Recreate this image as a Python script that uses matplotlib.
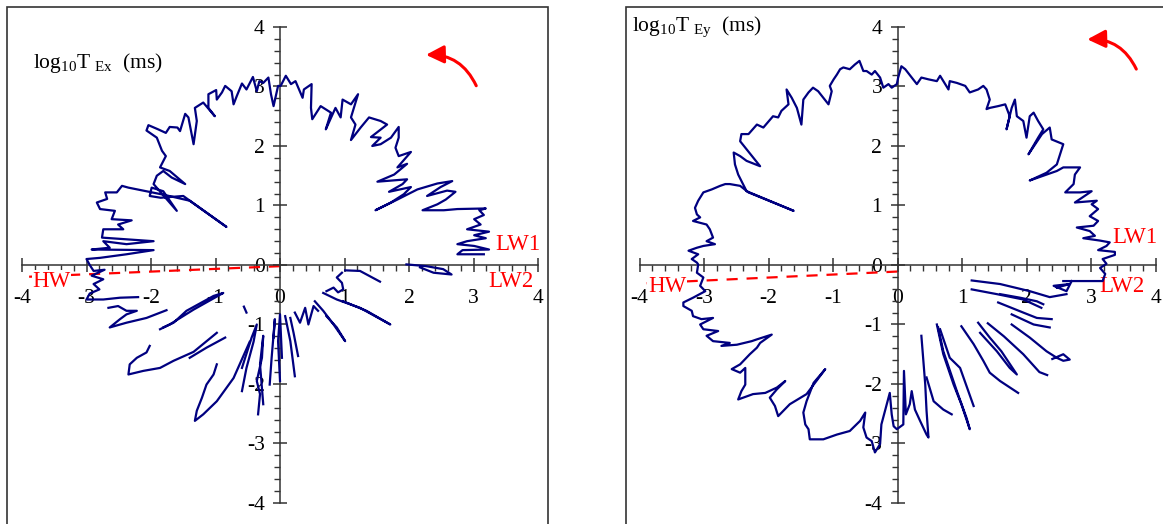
import numpy as np
import matplotlib.pyplot as plt
from matplotlib.patches import Rectangle, FancyArrowPatch
from matplotlib.ticker import MultipleLocator

plt.rcParams['font.family'] = ['Liberation Serif', 'DejaVu Serif']
plt.rcParams['mathtext.fontset'] = 'custom'
plt.rcParams['mathtext.rm'] = 'Liberation Serif'
plt.rcParams['axes.unicode_minus'] = False

# ---- T_Ex panel : main trace (LW1 -> top -> HW) ----
ex_main = [
    (3.16, 0.18), (2.75, 0.18), (2.83, 0.25), (3.24, 0.26), (3.01, 0.32), (2.75, 0.35),
    (2.90, 0.40), (3.19, 0.45), (3.01, 0.50), (3.24, 0.56), (2.90, 0.60), (3.11, 0.68),
    (3.01, 0.77), (3.16, 0.84), (3.09, 0.92), (3.19, 0.95), (2.75, 0.94), (2.54, 0.92),
    (2.21, 0.92), (2.44, 1.02), (2.57, 1.10), (2.72, 1.23), (2.59, 1.25), (2.28, 1.16),
    (2.49, 1.31), (2.67, 1.41), (2.44, 1.37), (2.13, 1.27), (1.82, 1.10), (1.48, 0.92),
    (1.72, 1.05), (1.92, 1.19), (2.03, 1.31), (1.69, 1.23), (1.90, 1.36), (1.97, 1.44),
    (1.51, 1.40), (1.77, 1.52), (1.97, 1.70), (1.82, 1.64), (2.03, 1.90), (1.84, 1.83),
    (1.79, 1.97), (1.84, 2.14), (1.84, 2.32), (1.72, 2.14), (1.56, 2.03), (1.43, 2.00),
    (1.56, 2.14), (1.41, 2.15), (1.66, 2.36), (1.56, 2.42), (1.38, 2.48), (1.25, 2.31),
    (1.10, 2.10), (1.17, 2.36), (1.10, 2.48), (1.21, 2.87), (1.10, 2.70), (0.97, 2.78),
    (0.94, 2.48), (0.86, 2.64), (0.71, 2.28), (0.79, 2.56), (0.63, 2.67), (0.50, 2.45),
    (0.48, 2.64), (0.49, 3.04), (0.37, 2.95), (0.35, 2.81), (0.24, 3.09), (0.17, 3.04),
    (0.09, 3.18), (0.01, 3.01), (-0.03, 3.01),
    (-0.10, 2.67), (-0.14, 2.87), (-0.18, 3.15), (-0.26, 3.06), (-0.32, 3.09), (-0.36, 2.92),
    (-0.42, 3.16), (-0.52, 2.95), (-0.59, 3.05), (-0.67, 2.84), (-0.72, 2.70), (-0.75, 2.92),
    (-0.85, 3.01), (-0.90, 2.90), (-0.98, 2.78), (-0.99, 2.94), (-1.11, 2.87), (-1.11, 2.64),
    (-1.01, 2.50), (-1.19, 2.73), (-1.32, 2.64), (-1.29, 2.42), (-1.34, 2.03), (-1.42, 2.48),
    (-1.47, 2.54), (-1.55, 2.25), (-1.59, 2.31), (-1.71, 2.32), (-1.77, 2.22), (-1.89, 2.28),
    (-2.04, 2.35), (-2.07, 2.26), (-1.91, 2.14), (-1.83, 1.92), (-1.77, 1.83), (-1.86, 1.64),
    (-1.71, 1.58), (-1.47, 1.36), (-1.68, 1.47), (-1.81, 1.58), (-1.91, 1.50), (-1.96, 1.36),
    (-1.60, 0.91), (-1.81, 1.24), (-1.99, 1.30), (-2.02, 1.16), (-1.85, 1.13), (-1.50, 1.16),
    (-0.83, 0.64), (-1.40, 1.08), (-1.80, 1.18), (-2.35, 1.30), (-2.45, 1.33), (-2.53, 1.22),
    (-2.71, 1.22), (-2.68, 1.11), (-2.84, 1.05), (-2.79, 0.94), (-2.56, 0.91), (-2.61, 0.77),
    (-2.30, 0.75), (-2.51, 0.68), (-2.43, 0.60), (-2.74, 0.60), (-2.76, 0.46), (-1.96, 0.40),
    (-2.38, 0.35), (-2.74, 0.40), (-2.64, 0.29), (-2.92, 0.26), (-1.96, 0.25), (-2.38, 0.18),
    (-2.79, 0.12), (-3.00, 0.10), (-2.95, 0.00), (-2.89, -0.10), (-2.72, -0.08), (-2.92, -0.18),
    (-2.74, -0.24), (-2.89, -0.32), (-2.80, -0.41), (-2.95, -0.48), (-3.00, -0.58), (-2.74, -0.58),
    (-2.48, -0.55), (-2.20, -0.54),
]

# ---- T_Ex panel : separate strokes of the lower half ----
ex_strokes = [
    [(-2.66, -0.72), (-2.51, -0.69), (-2.38, -0.77), (-2.22, -0.77), (-2.38, -0.83), (-2.48, -0.91),
     (-2.64, -1.05), (-2.38, -0.97), (-2.07, -0.89), (-1.76, -0.76)],
    [(-1.86, -1.08), (-1.71, -1.00), (-1.34, -0.75), (-0.88, -0.47), (-1.03, -0.52), (-1.45, -0.77),
     (-1.65, -0.97), (-1.81, -1.05)],
    [(-2.02, -1.36), (-2.07, -1.47), (-2.22, -1.56), (-2.33, -1.67), (-2.35, -1.84), (-2.12, -1.78),
     (-1.86, -1.73), (-1.65, -1.61), (-1.34, -1.46), (-0.98, -1.14)],
    [(-1.40, -1.56), (-1.14, -1.39), (-0.85, -1.22)],
    [(-0.98, -1.67), (-1.03, -1.84), (-1.14, -2.01), (-1.21, -2.23), (-1.29, -2.45), (-1.32, -2.62),
     (-1.19, -2.51), (-0.98, -2.29), (-0.72, -1.90), (-0.47, -1.29)],
    [(-0.56, -0.70), (-0.52, -0.80)],
    [(-0.59, -2.12), (-0.52, -1.73), (-0.41, -1.29), (-0.36, -1.00), (-0.44, -1.22), (-0.59, -1.73)],
    [(-0.34, -2.51), (-0.31, -2.17), (-0.36, -1.95), (-0.28, -1.56), (-0.26, -1.19), (-0.31, -1.67),
     (-0.26, -2.34)],
    [(-0.16, -2.01), (-0.13, -1.56), (-0.08, -0.91), (-0.10, -1.22)],
    [(0.00, -1.95), (-0.03, -1.28), (0.00, -0.83), (0.03, -1.56)],
    [(0.08, -0.86), (0.16, -1.28), (0.23, -1.87)],
    [(0.16, -0.89), (0.21, -1.14), (0.28, -1.53)],
    [(0.23, -0.80), (0.31, -0.97), (0.39, -0.72), (0.44, -1.00), (0.52, -0.69), (0.59, -0.77)],
    [(0.54, -0.61), (0.67, -0.77), (0.83, -1.00), (1.01, -1.28), (0.88, -1.05), (0.72, -0.86)],
    [(0.67, -0.47), (0.88, -0.58), (1.24, -0.72), (1.71, -1.00), (1.34, -0.77), (0.98, -0.61)],
    [(0.72, -0.44), (0.83, -0.38), (0.90, -0.46), (0.98, -0.41), (0.96, -0.30), (0.88, -0.21),
     (0.96, -0.13)],
    [(1.01, -0.09), (1.24, -0.10), (1.55, -0.28)],
    [(1.96, 0.01), (2.27, -0.02), (2.53, -0.07), (2.66, -0.16), (2.38, -0.13), (2.17, -0.04)],
]

# ---- T_Ey panel : main trace (LW2 -> LW1 -> top -> HW -> bottom) ----
ey_main = [
    (2.57, -0.27), (3.18, -0.27), (3.22, -0.15), (3.14, -0.05), (3.24, 0.02), (3.18, 0.10),
    (3.37, 0.17), (3.37, 0.22), (3.11, 0.25), (3.24, 0.32), (3.29, 0.38), (3.14, 0.41),
    (2.88, 0.45), (3.06, 0.49), (2.98, 0.57), (2.78, 0.63), (3.04, 0.66), (3.11, 0.74),
    (2.98, 0.82), (3.11, 0.94), (3.01, 1.02), (3.09, 1.08), (2.75, 1.05), (3.01, 1.24),
    (2.83, 1.22), (2.60, 1.22), (2.73, 1.36), (2.75, 1.52), (2.83, 1.64), (2.57, 1.64),
    (2.47, 1.58), (2.05, 1.42), (2.31, 1.55), (2.47, 1.69), (2.52, 1.86), (2.57, 2.03),
    (2.39, 2.11), (2.36, 2.31), (2.24, 2.20), (2.03, 1.86), (2.18, 2.14), (2.26, 2.28),
    (2.18, 2.42), (2.11, 2.56), (2.05, 2.50), (2.00, 2.14), (1.95, 2.42), (1.85, 2.50),
    (1.82, 2.78), (1.77, 2.64), (1.69, 2.28), (1.74, 2.50), (1.67, 2.70), (1.56, 2.67),
    (1.43, 2.64), (1.38, 2.62), (1.43, 2.78), (1.38, 2.95), (1.33, 3.01), (1.25, 2.95),
    (1.12, 2.90), (1.05, 3.01), (0.92, 3.06), (0.81, 3.09), (0.79, 2.95), (0.66, 3.18),
    (0.61, 3.09), (0.48, 3.12), (0.37, 3.15), (0.30, 3.04), (0.22, 3.15), (0.12, 3.29),
    (0.06, 3.34), (0.01, 3.15), (-0.01, 3.04), (-0.09, 2.98), (-0.14, 3.04), (-0.22, 2.98),
    (-0.27, 3.15), (-0.35, 3.26), (-0.40, 3.20), (-0.48, 3.26), (-0.53, 3.26), (-0.59, 3.43),
    (-0.66, 3.37), (-0.74, 3.29), (-0.84, 3.32), (-0.89, 3.29), (-0.94, 3.20), (-0.99, 3.12),
    (-1.05, 3.01), (-1.02, 2.92), (-1.07, 2.70), (-1.15, 2.81), (-1.23, 2.92), (-1.31, 2.98),
    (-1.38, 2.90), (-1.46, 2.78), (-1.49, 2.36), (-1.56, 2.64), (-1.64, 2.81), (-1.72, 2.95),
    (-1.69, 2.70), (-1.80, 2.59), (-1.85, 2.48), (-1.93, 2.50), (-2.08, 2.31), (-2.18, 2.36),
    (-2.31, 2.20), (-2.42, 2.20), (-2.44, 2.08), (-2.13, 1.66), (-2.34, 1.75), (-2.44, 1.83),
    (-2.54, 1.89), (-2.52, 1.69), (-2.47, 1.52), (-2.34, 1.24), (-1.61, 0.91), (-2.31, 1.22),
    (-2.44, 1.33), (-2.60, 1.36), (-2.67, 1.36), (-2.75, 1.33), (-2.88, 1.27), (-3.01, 1.22),
    (-3.09, 1.08), (-3.14, 0.96), (-3.11, 0.85), (-3.06, 0.80), (-3.17, 0.74), (-2.96, 0.68),
    (-2.91, 0.60), (-2.86, 0.46), (-2.96, 0.40), (-2.83, 0.35), (-3.01, 0.32), (-3.11, 0.29),
    (-3.24, 0.24), (-3.09, 0.18), (-3.19, 0.10), (-3.11, 0.04), (-3.09, 0.01), (-3.11, -0.13),
    (-3.01, -0.21), (-3.06, -0.35), (-2.98, -0.44), (-3.17, -0.55), (-3.32, -0.63), (-3.32, -0.69),
    (-3.19, -0.77), (-3.17, -0.86), (-3.04, -0.91), (-2.86, -0.89), (-3.06, -1.00), (-3.01, -1.08),
    (-2.78, -1.11), (-2.96, -1.19), (-2.86, -1.28), (-2.60, -1.31), (-2.73, -1.36), (-2.49, -1.34),
    (-2.26, -1.28), (-2.18, -1.25), (-1.95, -1.17), (-2.13, -1.31), (-2.18, -1.39), (-2.29, -1.50),
    (-2.44, -1.67), (-2.57, -1.75), (-2.44, -1.81), (-2.36, -1.73), (-2.36, -2.01), (-2.42, -2.12),
    (-2.47, -2.26), (-2.24, -2.17), (-2.05, -2.15), (-1.87, -2.06), (-1.74, -1.95), (-1.87, -2.09),
    (-1.98, -2.23), (-1.90, -2.37), (-1.85, -2.54), (-1.67, -2.34), (-1.41, -2.17), (-1.12, -1.75),
    (-1.30, -1.98), (-1.41, -2.29), (-1.46, -2.48), (-1.43, -2.68), (-1.38, -2.76), (-1.36, -2.93),
    (-1.15, -2.93), (-0.94, -2.85), (-0.74, -2.79), (-0.58, -2.62), (-0.50, -2.48), (-0.53, -2.73),
    (-0.48, -2.90), (-0.40, -2.96), (-0.35, -3.15), (-0.27, -3.01), (-0.25, -2.68), (-0.12, -2.15),
    (-0.09, -2.51), (-0.06, -2.71), (-0.01, -2.76), (0.09, -2.68), (0.10, -1.78), (0.13, -2.51),
    (0.19, -2.34), (0.22, -2.12), (0.27, -2.43), (0.35, -2.62), (0.45, -2.85), (0.48, -2.90),
    (0.45, -2.45), (0.43, -2.01), (0.37, -1.19),
]

# ---- T_Ey panel : radial strokes of the lower right quarter ----
ey_strokes = [
    [(0.61, -1.00), (0.71, -1.50), (0.87, -2.01), (0.99, -2.34), (1.12, -2.76), (1.07, -2.57),
     (0.92, -2.12), (0.71, -1.45), (0.63, -1.05)],
    [(0.66, -1.08), (0.81, -1.56), (0.97, -1.73), (1.18, -2.37)],
    [(0.45, -1.89), (0.56, -2.29), (0.71, -2.43), (0.84, -2.51)],
    [(0.99, -1.03), (1.18, -1.33), (1.33, -1.61), (1.43, -1.81), (1.59, -1.95), (1.87, -2.15)],
    [(1.25, -0.97), (1.43, -1.22), (1.61, -1.45), (1.85, -1.84), (1.74, -1.73), (1.54, -1.45),
     (1.28, -1.14)],
    [(1.40, -0.98), (1.65, -1.20), (1.95, -1.50), (2.20, -1.80), (2.32, -1.85)],
    [(1.77, -1.00), (2.05, -1.22), (2.31, -1.45), (2.47, -1.56), (2.57, -1.61), (2.67, -1.59),
     (2.57, -1.50), (2.40, -1.58)],
    [(1.77, -0.83), (2.11, -1.00), (2.36, -1.05)],
    [(1.56, -0.63), (1.95, -0.80), (2.16, -0.89), (2.39, -0.91)],
    [(1.59, -0.49), (1.90, -0.55), (2.16, -0.61), (2.26, -0.66)],
    [(1.15, -0.41), (1.54, -0.49), (1.95, -0.58), (2.23, -0.72)],
    [(1.15, -0.26), (1.59, -0.32), (2.05, -0.44), (2.36, -0.54), (2.62, -0.49)],
    [(2.47, -0.38), (2.67, -0.32), (2.42, -0.35), (2.62, -0.44), (2.70, -0.27)],
]

# HW direction lines (start at origin)
ex_hw = [(0.0, -0.02), (-3.95, -0.20)]
ey_hw = [(0.0, -0.11), (-3.95, -0.31)]

navy = '#000080'
fig = plt.figure(figsize=(11.63, 5.24), dpi=100)

# chart-area frames
fig.add_artist(Rectangle((7 / 1163, -0.05), 541 / 1163, 1.05 - 7 / 524, transform=fig.transFigure,
                         fill=False, ec='#333333', lw=1.2))
fig.add_artist(Rectangle((626 / 1163, -0.05), 0.6, 1.05 - 7 / 524, transform=fig.transFigure,
                         fill=False, ec='#333333', lw=1.2))


def panel(left, main, strokes, hw, title, title_pos, lbl, arrow):
    ax = fig.add_axes([left, 0.0401, 0.4437, 0.9084])
    ax.set_xlim(-4, 4)
    ax.set_ylim(-4, 4)
    ax.patch.set_alpha(0)
    for s in ['top', 'right']:
        ax.spines[s].set_visible(False)
    for s in ['left', 'bottom']:
        ax.spines[s].set_position(('data', 0))
        ax.spines[s].set_color('#333333')
        ax.spines[s].set_linewidth(1.1)
    ax.xaxis.set_major_locator(MultipleLocator(1))
    ax.yaxis.set_major_locator(MultipleLocator(1))
    ax.xaxis.set_minor_locator(MultipleLocator(0.2))
    ax.yaxis.set_minor_locator(MultipleLocator(0.2))
    ax.tick_params(which='major', direction='inout', length=10, width=1.1, color='#333333',
                   labelsize=15.5)
    ax.tick_params(which='minor', direction='out', length=4, width=1.0, color='#333333')
    ax.tick_params(axis='x', which='major', pad=12)
    ax.tick_params(axis='y', which='major', pad=6)

    hx, hy = zip(*hw)
    ax.plot(hx, hy, color='red', lw=1.6, dashes=(5, 4), zorder=2)
    mx, my = zip(*main)
    ax.plot(mx, my, color=navy, lw=1.6, zorder=4, clip_on=False)
    for st in strokes:
        sx, sy = zip(*st)
        ax.plot(sx, sy, color=navy, lw=1.6, zorder=4, clip_on=False)

    fig.text(title_pos[0], title_pos[1], title, fontsize=15.5, ha='left', va='baseline')
    for txt, (tx, ty) in lbl.items():
        kw = dict(bbox=dict(fc='white', ec='none', pad=0.5)) if txt == 'HW' else {}
        ax.text(tx, ty, txt, color='red', fontsize=16.5, ha='center', va='center', zorder=3, **kw)
    ax.add_patch(FancyArrowPatch(arrow[0], arrow[1], connectionstyle='arc3,rad=0.35',
                                 arrowstyle='-|>,head_length=0.9,head_width=0.45',
                                 mutation_scale=12, color='red', lw=2.2, clip_on=False))
    return ax


panel(22 / 1163, ex_main, ex_strokes, ex_hw,
      r'$\mathrm{log_{10}T_{\ Ex}}$  (ms)', (33 / 1163, 0.870),
      {'LW1': (3.68, 0.34), 'LW2': (3.58, -0.28), 'HW': (-3.54, -0.28)},
      ((3.06, 2.97), (2.22, 3.53)))
panel(639.5 / 1163, ey_main, ey_strokes, ey_hw,
      r'$\mathrm{log_{10}T_{\ Ey}}$  (ms)', (632 / 1163, 0.940),
      {'LW1': (3.68, 0.46), 'LW2': (3.48, -0.36), 'HW': (-3.57, -0.36)},
      ((3.72, 3.25), (2.90, 3.79)))

fig.savefig('out.png', dpi=100)
